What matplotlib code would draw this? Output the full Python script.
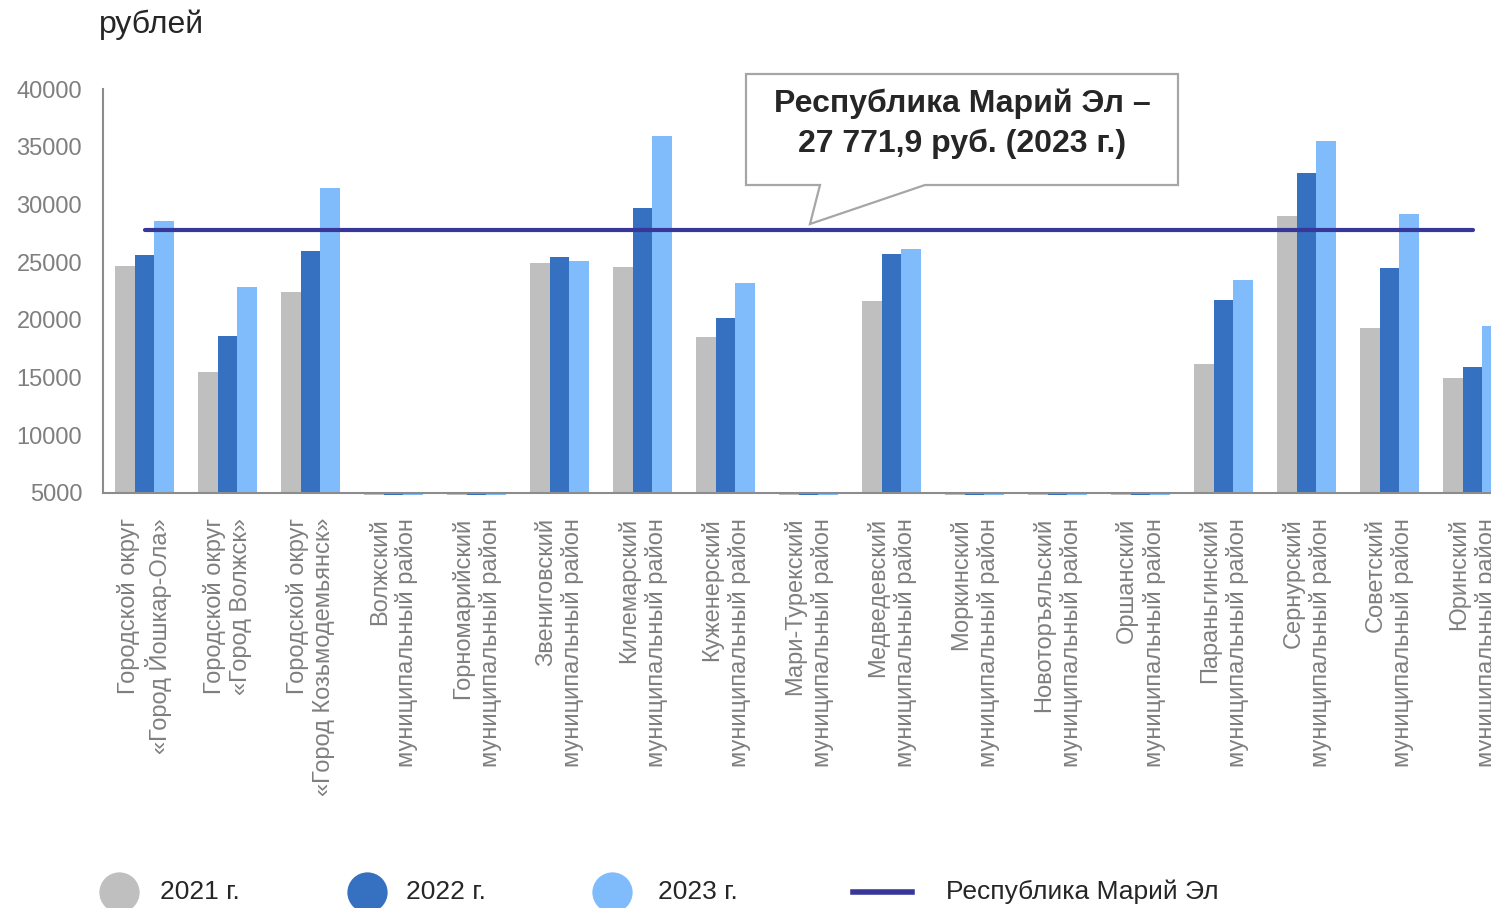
import matplotlib
matplotlib.use('Agg')
import matplotlib.pyplot as plt
from matplotlib.patches import Polygon
from matplotlib.lines import Line2D
import numpy as np

plt.rcParams['font.family'] = ['Liberation Sans', 'DejaVu Sans']

# districts of Mari El (two-line labels)
districts = [
    'Городской округ\n«Город Йошкар-Ола»',
    'Городской округ\n«Город Волжск»',
    'Городской округ\n«Город Козьмодемьянск»',
    'Волжский\nмуниципальный район',
    'Горномарийский\nмуниципальный район',
    'Звениговский\nмуниципальный район',
    'Килемарский\nмуниципальный район',
    'Куженерский\nмуниципальный район',
    'Мари-Турекский\nмуниципальный район',
    'Медведевский\nмуниципальный район',
    'Моркинский\nмуниципальный район',
    'Новоторъяльский\nмуниципальный район',
    'Оршанский\nмуниципальный район',
    'Параньгинский\nмуниципальный район',
    'Сернурский\nмуниципальный район',
    'Советский\nмуниципальный район',
    'Юринский\nмуниципальный район',
]

# values, rubles (0 = no data)
v2021 = [24670, 15490, 22420, 0, 0, 24930, 24590, 18520, 0, 21640, 0, 0, 0, 16180, 28980, 19300, 14990]
v2022 = [25620, 18610, 25970, 0, 0, 25450, 29700, 20170, 0, 25710, 0, 0, 0, 21700, 32730, 24470, 15890]
v2023 = [28570, 22850, 31430, 0, 0, 25100, 35940, 23200, 0, 26150, 0, 0, 0, 23480, 35480, 29200, 19470]
republic = 27771.9

years = ['2021 г.', '2022 г.', '2023 г.']
series = [v2021, v2022, v2023]
colors = ['#bfbfbf', '#3570c1', '#80bcfc']
lineColor = '#373799'
greyText = '#7f7f7f'
darkText = '#262626'

W, H = 1491, 908
fig = plt.figure(figsize=(W / 100, H / 100), dpi=100)

def px(x, y):
    # figure pixel (from top-left) -> figure fraction
    return x / W, 1 - y / H

# axes extends past the right edge, as in the reference
ax = fig.add_axes([103 / W, 1 - 495.3 / H, 1411 / W, (495.3 - 89) / H])

base = 5000
# spine position first: it resets the ticks
for s in ['top', 'right']:
    ax.spines[s].set_visible(False)
ax.spines['bottom'].set_position(('data', base))
ax.spines['left'].set_bounds(base, 40000)
for s in ['bottom', 'left']:
    ax.spines[s].set_color('#8c8c8c')
    ax.spines[s].set_linewidth(1.5)

x = np.arange(len(districts))
width = 0.235
for i, (vals, col) in enumerate(zip(series, colors)):
    ax.bar(x + (i - 1) * width, np.array(vals) - base, width, bottom=base,
           color=col, zorder=1)

ax.plot(x, [republic] * len(x), color=lineColor, lw=3, solid_capstyle='round', zorder=3)

ax.set_xlim(-0.5, len(districts) - 0.5)
ax.set_ylim(4800, 40000)
ax.set_yticks(range(5000, 40001, 5000))
ax.set_xticks(x)
ax.tick_params(axis='y', length=0, pad=15, labelsize=17, labelcolor=greyText)
ax.tick_params(axis='x', length=0, pad=18, labelsize=17, labelcolor=greyText)
ax.set_xticklabels(districts, rotation=90, ha='center', va='top',
                   multialignment='right', linespacing=1.25)

# units
fig.text(*px(99, 25), 'рублей', fontsize=23, color=darkText, va='center', ha='left')

# callout box
pts = [px(746, 74), px(1178, 74), px(1178, 185), px(925, 185),
       px(810, 224), px(820, 185), px(746, 185)]
fig.add_artist(Polygon(pts, closed=True, facecolor='white', edgecolor='#a6a6a6',
                       lw=1.6, transform=fig.transFigure, zorder=5))
fig.text(*px(962, 124), 'Республика Марий Эл –\n27 771,9 руб. (2023 г.)',
         fontsize=23, fontweight='bold', color=darkText, ha='center', va='center',
         linespacing=1.4, zorder=6)

# legend
ly = 892
markerX = [119, 367, 612]
textX = [160, 406, 658]
for lab, col, mx, tx in zip(years, colors, markerX, textX):
    fig.add_artist(Line2D([mx / W], [1 - ly / H], marker='o', markersize=29,
                          color=col, markeredgewidth=0, transform=fig.transFigure))
    fig.text(*px(tx, ly), lab, fontsize=19, color=darkText, va='center', ha='left')
fig.add_artist(Line2D([853 / W, 912 / W], [1 - ly / H] * 2, color=lineColor, lw=4,
                      transform=fig.transFigure))
fig.text(*px(946, ly), 'Республика Марий Эл', fontsize=19, color=darkText,
         va='center', ha='left')

fig.savefig('out.png', dpi=100)
